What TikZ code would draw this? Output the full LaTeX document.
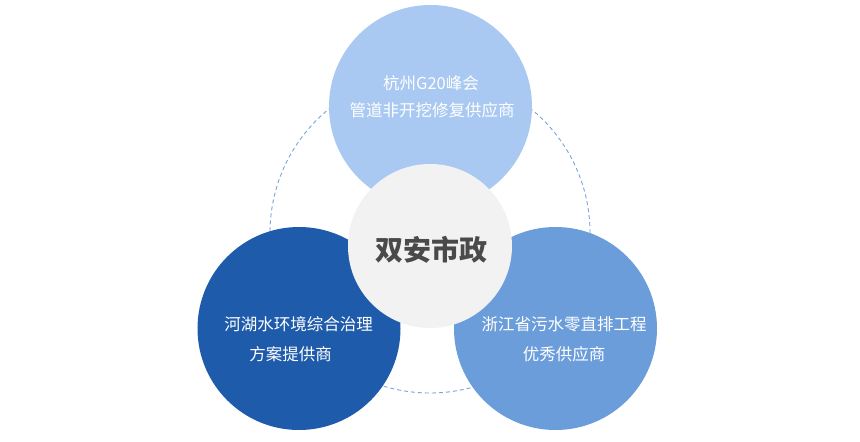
\documentclass[tikz,border=0pt]{standalone}
\usepackage{fontspec}
\newfontfamily\cjk{Noto Sans CJK SC}
\begin{document}
\begin{tikzpicture}[x=1pt,y=-1pt,
  ring/.style={draw=dashblue,line width=0.9pt,dash pattern=on 4pt off 3pt},
  bubble/.style={circle,draw=none,minimum size=203pt,inner sep=0pt},
  hub/.style={circle,draw=none,fill=hubgray,minimum size=164pt,inner sep=0pt},
  lbl/.style={text=white,font=\cjk\fontsize{16.5}{20}\selectfont,inner sep=0pt,anchor=center},
  hublbl/.style={text=hubtext,font=\cjk\bfseries\fontsize{28}{32}\selectfont,inner sep=0pt}]
\definecolor{dashblue}{HTML}{7AA3DC}
\definecolor{topblue}{HTML}{A9C9F2}
\definecolor{darkblue}{HTML}{1F5BAB}
\definecolor{midblue}{HTML}{6C9DDB}
\definecolor{hubgray}{HTML}{F2F2F2}
\definecolor{hubtext}{HTML}{4A4A4A}
\useasboundingbox (0,0) rectangle (860,442);
\fill[white] (0,0) rectangle (860,442);
\coordinate (ringc) at (430,233);
\draw[ring] (ringc) circle[radius=160pt];
\node[bubble,fill=topblue] (top) at (430.5,106.5) {};
\node[bubble,fill=darkblue] (bl) at (299,328.5) {};
\node[bubble,fill=midblue] (br) at (555.5,328.5) {};
\node[hub] (hub) at (430,246) {};
\node[hublbl] (hubt) at (431,250) {双安市政};
\node[lbl] (t1) at (431,83) {杭州G20峰会};
\node[lbl] (t2) at (432,110) {管道非开挖修复供应商};
\node[lbl] (l1) at (298.5,324) {河湖水环境综合治理};
\node[lbl] (l2) at (290.5,354) {方案提供商};
\node[lbl] (r1) at (564,324) {浙江省污水零直排工程};
\node[lbl] (r2) at (564,354) {优秀供应商};
\end{tikzpicture}
\end{document}
